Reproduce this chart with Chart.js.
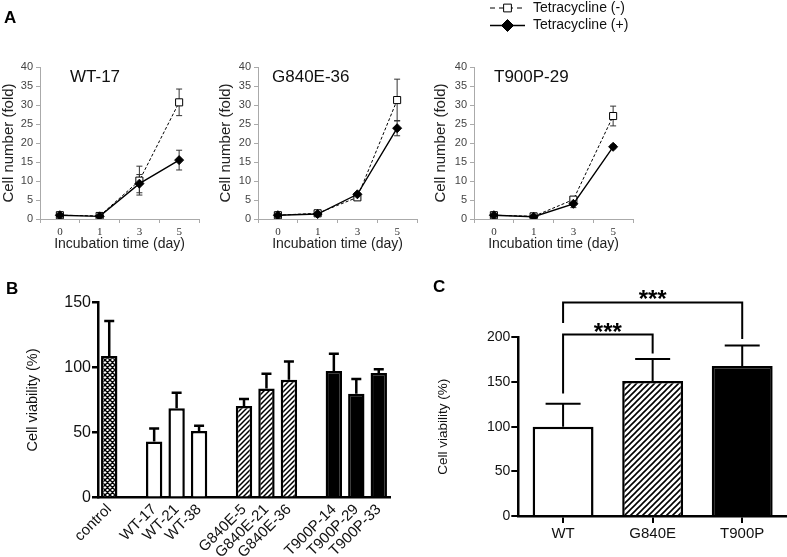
<!DOCTYPE html>
<html><head><meta charset="utf-8">
<script src="https://cdn.jsdelivr.net/npm/chart.js@4.4.1/dist/chart.umd.min.js"></script>
<style>
html,body{margin:0;padding:0;background:#fff;}
#wrap{position:relative;width:787px;height:557px;overflow:hidden;background:#fff;}
#wrap canvas{position:absolute;left:0;top:0;}
.lab{position:absolute;font:bold 17px "Liberation Sans",Arial,sans-serif;color:#000;line-height:1;}
</style></head><body>
<div id="wrap">
<canvas id="a1" width="787" height="557"></canvas>
<canvas id="a2" width="787" height="557"></canvas>
<canvas id="a3" width="787" height="557"></canvas>
<canvas id="b" width="787" height="557"></canvas>
<canvas id="c" width="787" height="557"></canvas>
<div class="lab" style="left:4px;top:9px">A</div>
<div class="lab" style="left:6px;top:280px">B</div>
<div class="lab" style="left:433px;top:278px">C</div>
</div>
<script>
// ---------- DATA ----------
const days = ['0', '1', '3', '5'];
const seriesNames = ['Tetracycline (-)', 'Tetracycline (+)'];
const panelTitles = ['WT-17', 'G840E-36', 'T900P-29'];

const wt17Minus = [1.0, 0.8, 10.1, 30.7];
const wt17MinusErr = [0.3, 0.3, 3.8, 3.5];
const wt17Plus = [1.0, 0.7, 9.3, 15.5];
const wt17PlusErr = [0.3, 0.3, 2.4, 2.6];

const g840Minus = [1.0, 1.5, 5.7, 31.3];
const g840MinusErr = [0.3, 0.4, 0.5, 5.5];
const g840Plus = [1.0, 1.3, 6.5, 23.9];
const g840PlusErr = [0.3, 0.3, 0.4, 2.0];

const t900Minus = [1.0, 0.7, 5.1, 27.1];
const t900MinusErr = [0.3, 0.3, 0.6, 2.6];
const t900Plus = [1.0, 0.6, 4.0, 19.0];
const t900PlusErr = [0.3, 0.3, 1.0, 0.5];

const cloneLabels = ['control', '', 'WT-17', 'WT-21', 'WT-38', '', 'G840E-5', 'G840E-21', 'G840E-36', '', 'T900P-14', 'T900P-29', 'T900P-33'];
const cloneGroups = ['control', null, 'WT', 'WT', 'WT', null, 'G840E', 'G840E', 'G840E', null, 'T900P', 'T900P', 'T900P'];
const cloneViability = [108.7, null, 43.2, 68.6, 51.2, null, 70.4, 83.9, 90.6, null, 97.2, 79.8, 95.7];
const cloneViabilityErr = [27.0, null, 10.0, 12.0, 4.0, null, 5.4, 11.3, 14.0, null, 13.3, 11.3, 3.0];

const mutants = ['WT', 'G840E', 'T900P'];
const mutantViability = [100, 151, 168];
const mutantViabilityErr = [25.7, 24.6, 22.8];
// significance brackets: category indices and bracket heights (in % units)
const comparisons = [
  { from: 0, to: 1, text: '***', fromY: 137, topY: 203, toY: 182 },
  { from: 0, to: 2, text: '***', fromY: 216, topY: 239, toY: 198 }
];

// ---------- SETUP ----------
const W = 787, H = 557;
const FONT = '"Liberation Sans", Arial, sans-serif';
Chart.defaults.font.family = FONT;
Chart.defaults.color = '#222';

function pad(plotL, plotT, plotR, plotB, yW, xH) {
  return { left: plotL - yW, top: plotT, right: W - plotR, bottom: H - plotB - xH };
}

function drawErrorBars(chart, opts) {
  const ctx = chart.ctx, yScale = chart.scales.y;
  ctx.save();
  ctx.strokeStyle = opts.color || '#000';
  ctx.lineWidth = opts.lineWidth || 1;
  ctx.setLineDash([]);
  chart.data.datasets.forEach((ds, i) => {
    if (!ds.errors) return;
    const meta = chart.getDatasetMeta(i);
    meta.data.forEach((el, j) => {
      const v = ds.data[j], e = ds.errors[j];
      if (v == null || e == null) return;
      const x = el.x, cap = opts.cap || 3;
      const yHi = yScale.getPixelForValue(v + e);
      const yLo = opts.upOnly ? yScale.getPixelForValue(v) : yScale.getPixelForValue(v - e);
      ctx.beginPath();
      ctx.moveTo(x, yLo); ctx.lineTo(x, yHi);
      ctx.moveTo(x - cap, yHi); ctx.lineTo(x + cap, yHi);
      if (!opts.upOnly) { ctx.moveTo(x - cap, yLo); ctx.lineTo(x + cap, yLo); }
      ctx.stroke();
    });
  });
  ctx.restore();
}
const errorBarPlugin = {
  id: 'errorBars',
  beforeDatasetsDraw(chart, args, opts) { if (opts.beneath) drawErrorBars(chart, opts); },
  afterDatasetsDraw(chart, args, opts) { if (!opts.beneath) drawErrorBars(chart, opts); }
};

const panelTitlePlugin = {
  id: 'panelTitle',
  afterDraw(chart, args, opts) {
    if (!opts.text) return;
    const ctx = chart.ctx, a = chart.chartArea;
    ctx.save();
    ctx.font = '17px ' + FONT;
    ctx.fillStyle = '#111';
    ctx.textAlign = 'left';
    ctx.textBaseline = 'middle';
    ctx.fillText(opts.text, a.left + opts.dx, a.top + opts.dy);
    ctx.restore();
  }
};

function drawMarker(ctx, style, x, y, r, fill) {
  ctx.beginPath();
  if (style === 'rect') {
    const s = r * Math.SQRT1_2;
    ctx.rect(x - s, y - s, 2 * s, 2 * s);
  } else {
    ctx.moveTo(x, y - r); ctx.lineTo(x + r, y); ctx.lineTo(x, y + r); ctx.lineTo(x - r, y); ctx.closePath();
  }
  ctx.fillStyle = fill; ctx.fill();
  ctx.lineWidth = 1; ctx.strokeStyle = '#000'; ctx.stroke();
}

const lineLegendPlugin = {
  id: 'lineLegend',
  afterDraw(chart, args, opts) {
    if (!opts.show) return;
    const ctx = chart.ctx, a = chart.chartArea;
    const x0 = a.left + 16, x1 = a.left + 51, xm = (x0 + x1) / 2;
    chart.data.datasets.forEach((ds, i) => {
      const y = a.top - 59 + i * 17.5;
      ctx.save();
      ctx.strokeStyle = '#000';
      ctx.lineWidth = ds.borderWidth;
      ctx.setLineDash(ds.borderDash ? [5, 4] : []);
      ctx.beginPath(); ctx.moveTo(x0, y); ctx.lineTo(x1, y); ctx.stroke();
      ctx.setLineDash([]);
      drawMarker(ctx, ds.pointStyle, xm, y, ds.pointStyle === 'rect' ? 5.5 : 6, ds.pointBackgroundColor);
      ctx.font = '14px ' + FONT;
      ctx.fillStyle = '#111';
      ctx.textAlign = 'left'; ctx.textBaseline = 'middle';
      ctx.fillText(ds.label, a.left + 59, y);
      ctx.restore();
    });
  }
};

function lineChart(id, minus, minusErr, plus, plusErr, plotL, yW, yTitlePad, title, titleDx, legend) {
  const plotT = 67, plotB = 219, plotR = plotL + 159, xH = 33.4;
  return new Chart(document.getElementById(id), {
    type: 'line',
    data: {
      labels: days,
      datasets: [
        { label: seriesNames[0], data: minus, errors: minusErr, borderColor: '#000', borderWidth: 1, borderDash: [3, 2],
          pointStyle: 'rect', pointRadius: 5, pointBackgroundColor: '#fff', pointBorderColor: '#000', pointBorderWidth: 1,
          fill: false, tension: 0, order: 1 },
        { label: seriesNames[1], data: plus, errors: plusErr, borderColor: '#000', borderWidth: 1.4,
          pointStyle: 'rectRot', pointRadius: 4.5, pointBackgroundColor: '#000', pointBorderColor: '#000', pointBorderWidth: 1,
          fill: false, tension: 0, order: 0 }
      ]
    },
    plugins: [errorBarPlugin, panelTitlePlugin, lineLegendPlugin],
    options: {
      responsive: false, animation: false, devicePixelRatio: 1,
      layout: { padding: pad(plotL, plotT, plotR, plotB, yW, xH) },
      plugins: {
        legend: { display: false }, tooltip: { enabled: false },
        errorBars: { beneath: true, cap: 3, lineWidth: 1, color: '#333' },
        panelTitle: { text: title, dx: titleDx, dy: 10 },
        lineLegend: { show: legend }
      },
      scales: {
        x: {
          offset: true,
          grid: { offset: true, drawOnChartArea: false, tickLength: 4, color: '#aaa' },
          border: { color: '#aaa' },
          ticks: { font: { family: '"Liberation Serif", serif', size: 11 }, color: '#333', padding: 3 },
          title: { display: true, text: 'Incubation time (day)', font: { size: 14 }, color: '#222', padding: { top: 0, bottom: 0 } },
          afterFit: s => { s.height = xH; }
        },
        y: {
          min: 0, max: 40,
          ticks: { stepSize: 5, font: { size: 11 }, color: '#444', padding: 3 },
          grid: { drawOnChartArea: false, tickLength: 4, color: '#aaa' },
          border: { color: '#aaa' },
          title: { display: true, text: 'Cell number (fold)', font: { size: 15 }, color: '#222', padding: { top: yTitlePad, bottom: 0 } },
          afterFit: s => { s.width = yW; }
        }
      }
    }
  });
}

lineChart('a1', wt17Minus, wt17MinusErr, wt17Plus, wt17PlusErr, 40, 40, 0, panelTitles[0], 30, false);
lineChart('a2', g840Minus, g840MinusErr, g840Plus, g840PlusErr, 258, 50, 9, panelTitles[1], 14, false);
lineChart('a3', t900Minus, t900MinusErr, t900Plus, t900PlusErr, 474, 50, 8, panelTitles[2], 20, true);

function makePattern(ctxTarget, size, lw, cross) {
  const c = document.createElement('canvas');
  c.width = c.height = size;
  const g = c.getContext('2d');
  g.fillStyle = '#fff'; g.fillRect(0, 0, size, size);
  g.strokeStyle = '#000'; g.lineWidth = lw;
  g.beginPath();
  g.moveTo(-size, size * 2); g.lineTo(size * 2, -size);
  g.moveTo(-size, size); g.lineTo(size, -size);
  g.moveTo(0, size * 2); g.lineTo(size * 2, 0);
  if (cross) {
    g.moveTo(-size, -size); g.lineTo(size * 2, size * 2);
    g.moveTo(-size, 0); g.lineTo(size, size * 2);
    g.moveTo(0, -size); g.lineTo(size * 2, size);
  }
  g.stroke();
  return ctxTarget.createPattern(c, 'repeat');
}

// ---------- PANEL B ----------
(function () {
  const cv = document.getElementById('b');
  const ctx = cv.getContext('2d');
  const fills = {
    control: makePattern(ctx, 5, 1.4, true),
    WT: '#fff',
    G840E: makePattern(ctx, 5, 1.5, false),
    T900P: '#000'
  };
  const plotL = 98, plotT = 302.3, plotR = 390, plotB = 497.7, yW = 98, xH = 59.3;
  new Chart(cv, {
    type: 'bar',
    data: {
      labels: cloneLabels,
      datasets: [{
        data: cloneViability, errors: cloneViabilityErr,
        backgroundColor: cloneGroups.map(g => g ? fills[g] : '#fff'),
        borderColor: '#000', borderWidth: 2.5, categoryPercentage: 1, barPercentage: 0.73
      }]
    },
    plugins: [errorBarPlugin],
    options: {
      responsive: false, animation: false, devicePixelRatio: 1,
      layout: { padding: pad(plotL, plotT, plotR, plotB, yW, xH) },
      plugins: {
        legend: { display: false }, tooltip: { enabled: false },
        errorBars: { upOnly: true, cap: 5, lineWidth: 2.5, color: '#000' }
      },
      scales: {
        x: {
          grid: { display: false },
          border: { color: '#000', width: 2.5 },
          ticks: { autoSkip: false, minRotation: 45, maxRotation: 45, padding: -5, font: { size: 15 }, color: '#111' },
          afterFit: s => { s.height = xH; }
        },
        y: {
          min: 0, max: 150,
          ticks: { stepSize: 50, font: { size: 16 }, color: '#111', padding: 1 },
          grid: { drawOnChartArea: false, tickLength: 6, lineWidth: 2.5, color: '#000' },
          border: { color: '#000', width: 2.5 },
          title: { display: true, text: 'Cell viability (%)', font: { size: 14.5 }, color: '#111', padding: { top: 24.3, bottom: 0 } },
          afterFit: s => { s.width = yW; }
        }
      }
    }
  });
})();

// ---------- PANEL C ----------
(function () {
  const cv = document.getElementById('c');
  const ctx = cv.getContext('2d');
  const fills = { WT: '#fff', G840E: makePattern(ctx, 6, 1.6, false), T900P: '#000' };
  const plotL = 518.3, plotT = 337.3, plotR = 787, plotB = 516, yW = 93.3, xH = 41;
  const bracketPlugin = {
    id: 'brackets',
    afterDraw(chart) {
      const c = chart.ctx, xs = chart.scales.x, ys = chart.scales.y;
      c.save();
      c.strokeStyle = '#000'; c.lineWidth = 2; c.fillStyle = '#000';
      comparisons.forEach(cmp => {
        const xa = xs.getPixelForValue(cmp.from), xb = xs.getPixelForValue(cmp.to);
        const ya = ys.getPixelForValue(cmp.fromY), yt = ys.getPixelForValue(cmp.topY), yb = ys.getPixelForValue(cmp.toY);
        c.beginPath();
        c.moveTo(xa, ya); c.lineTo(xa, yt); c.lineTo(xb, yt); c.lineTo(xb, yb);
        c.stroke();
        c.font = 'bold 24px ' + FONT;
        c.textAlign = 'center'; c.textBaseline = 'alphabetic';
        c.fillText(cmp.text, (xa + xb) / 2, yt + 5);
      });
      c.restore();
    }
  };
  new Chart(cv, {
    type: 'bar',
    data: {
      labels: mutants,
      datasets: [{
        data: mutantViability, errors: mutantViabilityErr,
        backgroundColor: mutants.map(m => fills[m]),
        borderColor: '#000', borderWidth: 2.5, categoryPercentage: 1, barPercentage: 0.68
      }]
    },
    plugins: [errorBarPlugin, bracketPlugin],
    options: {
      responsive: false, animation: false, devicePixelRatio: 1,
      layout: { padding: pad(plotL, plotT, plotR, plotB, yW, xH) },
      plugins: {
        legend: { display: false }, tooltip: { enabled: false },
        errorBars: { upOnly: true, cap: 17.5, lineWidth: 2, color: '#000' }
      },
      scales: {
        x: {
          grid: { offset: false, drawOnChartArea: false, tickLength: 7, lineWidth: 2, color: '#000' },
          border: { color: '#000', width: 2.5 },
          ticks: { font: { size: 15 }, color: '#111', padding: 2 },
          afterFit: s => { s.height = xH; }
        },
        y: {
          min: 0, max: 200,
          ticks: { stepSize: 50, font: { size: 14 }, color: '#111', padding: 1 },
          grid: { drawOnChartArea: false, tickLength: 7, lineWidth: 2, color: '#000' },
          border: { color: '#000', width: 2.5 },
          title: { display: true, text: 'Cell viability (%)', font: { size: 13.5 }, color: '#111', padding: { top: 9.9, bottom: 0 } },
          afterFit: s => { s.width = yW; }
        }
      }
    }
  });
})();
</script>
</body></html>
